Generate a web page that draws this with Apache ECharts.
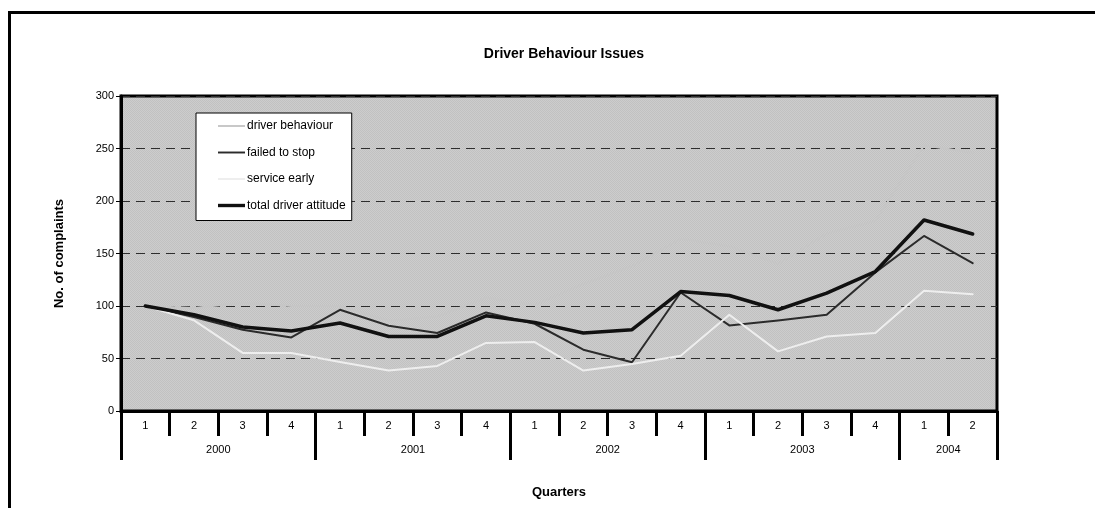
<!DOCTYPE html>
<html>
<head>
<meta charset="utf-8">
<title>Driver Behaviour Issues</title>
<script src="https://cdn.jsdelivr.net/npm/echarts@6/dist/echarts.min.js"></script>
<style>
  html, body { margin: 0; padding: 0; background: #ffffff; }
  #chart { width: 1095px; height: 508px; }
</style>
</head>
<body>
<div id="chart"></div>
<script>
// Quarter labels (x axis, first level) and the year each block of quarters belongs to
const quarters = ['1','2','3','4','1','2','3','4','1','2','3','4','1','2','3','4','1','2'];
const years = ['2000','2001','2002','2003','2004'];
const yearStarts = [0, 4, 8, 12, 16, 18];          // category boundaries of each year

// Complaint indices per quarter (2000 Q1 = 100)
const driverBehaviour = [100, 98, 103, 100, 100, 86, 90, 108, 101, 121, 138, 164, 157, 140, 169, 181, 253, 246];
const failedToStop    = [100, 89.5, 77.4, 70.1, 96.4, 81.2, 74.3, 93.9, 83.1, 58.4, 46.4, 112.9, 81.5, 86.3, 91.7, 132, 166.7, 140.8];
const serviceEarly    = [100, 86.3, 55.3, 55.3, 46.7, 38.5, 42.9, 64.8, 65.7, 38.5, 44.8, 52.7, 91.7, 56.8, 71, 74.3, 114.5, 111.3];
const totalAttitude   = [100, 91.7, 80, 76.2, 83.8, 71, 71, 90.7, 84.4, 74.3, 77.4, 113.8, 110, 96.4, 112.3, 132.8, 181.9, 168.6];

const yTicks = { min: 0, max: 300, step: 50 };

const FONT = "'Liberation Sans', Arial, sans-serif";

// fine two-tone dot fill for the plot area
function dotPattern() {
  const c = document.createElement('canvas');
  c.width = 2; c.height = 2;
  const g = c.getContext('2d');
  g.fillStyle = '#cdcdcd'; g.fillRect(0, 0, 2, 2);
  g.fillStyle = '#c1c1c1'; g.fillRect(0, 0, 1, 1); g.fillRect(1, 1, 1, 1);
  return c;
}

// centre of each year's span, in category units
const yearCentres = years.map((y, i) => (yearStarts[i] + yearStarts[i + 1]) / 2);

// plain stroke used as legend key, thickness follows the series
const keyPath = h => 'path://M0,0L28,0L28,' + h + 'L0,' + h + 'Z';

const chart = echarts.init(document.getElementById('chart'), null, { renderer: 'canvas' });

function line(name, data, color, width) {
  return {
    name, type: 'line', data, xAxisIndex: 0, yAxisIndex: 0,
    symbol: 'none', animation: false,
    lineStyle: { color, width, cap: 'round', join: 'round' },
    itemStyle: { color }
  };
}

chart.setOption({
  backgroundColor: '#ffffff',
  animation: false,
  textStyle: { fontFamily: FONT, color: '#000' },
  title: {
    text: 'Driver Behaviour Issues',
    left: 559, top: 42, textAlign: 'center',
    textStyle: { fontFamily: FONT, fontSize: 14, fontWeight: 'bold', color: '#000' }
  },
  graphic: [{
    type: 'rect', left: 7, top: 10, silent: true,
    shape: { width: 1200, height: 600 },
    style: { fill: 'none', stroke: '#000', lineWidth: 3 }
  }],
  legend: {
    orient: 'vertical', left: 196, top: 113,
    backgroundColor: '#ffffff', borderColor: '#000', borderWidth: 1,
    padding: [7, 6, 9, 22], itemGap: 14.5,
    itemWidth: 27, itemHeight: 12,
    textStyle: { fontFamily: FONT, fontSize: 12, color: '#000', padding: [0, 0, 0, -3] },
    data: [
      { name: 'driver behaviour', icon: keyPath(2) },
      { name: 'failed to stop', icon: keyPath(2) },
      { name: 'service early', icon: keyPath(2) },
      { name: 'total driver attitude', icon: keyPath(3.5) }
    ]
  },
  grid: {
    left: 121, right: 98, top: 96, bottom: 97,
    show: true, backgroundColor: { image: dotPattern(), repeat: 'repeat' },
    borderColor: '#000', borderWidth: 3
  },
  xAxis: [{
    type: 'category', data: quarters, boundaryGap: true, position: 'bottom',
    axisLine: { show: true, lineStyle: { color: '#000', width: 3 } },
    axisTick: { show: true, interval: 0, length: 25, lineStyle: { color: '#000', width: 3 } },
    axisLabel: { interval: 0, margin: 9, fontFamily: FONT, fontSize: 11, color: '#000' },
    splitLine: { show: false }
  }, {
    type: 'value', min: 0, max: quarters.length, position: 'bottom',
    name: 'Quarters', nameLocation: 'middle', nameGap: 75,
    nameTextStyle: { fontFamily: FONT, fontSize: 13, fontWeight: 'bold', color: '#000' },
    axisLine: { show: false },
    axisTick: { show: true, customValues: yearStarts, length: 49, lineStyle: { color: '#000', width: 3 } },
    axisLabel: {
      customValues: yearCentres, margin: 33, fontFamily: FONT, fontSize: 11, color: '#000',
      formatter: v => years[yearCentres.indexOf(v)] || ''
    },
    splitLine: { show: false }
  }],
  yAxis: {
    type: 'value', min: yTicks.min, max: yTicks.max, interval: yTicks.step,
    name: 'No. of complaints', nameLocation: 'middle', nameGap: 55, nameRotate: 90,
    nameTextStyle: { fontFamily: FONT, fontSize: 13, fontWeight: 'bold', color: '#000' },
    axisLine: { show: true, lineStyle: { color: '#000', width: 3 } },
    axisTick: { show: true, length: 5, lineStyle: { color: '#000', width: 1 } },
    axisLabel: { margin: 7, fontFamily: FONT, fontSize: 11, color: '#000' },
    splitLine: { show: true, lineStyle: { color: '#2e2e2e', width: 1.2, type: [9, 6] } }
  },
  series: [
    line('driver behaviour', driverBehaviour, '#c6c6c6', 2),
    line('failed to stop', failedToStop, '#2b2b2b', 2),
    line('service early', serviceEarly, '#eeeeee', 2),
    line('total driver attitude', totalAttitude, '#111111', 3.5)
  ]
});
</script>
</body>
</html>
